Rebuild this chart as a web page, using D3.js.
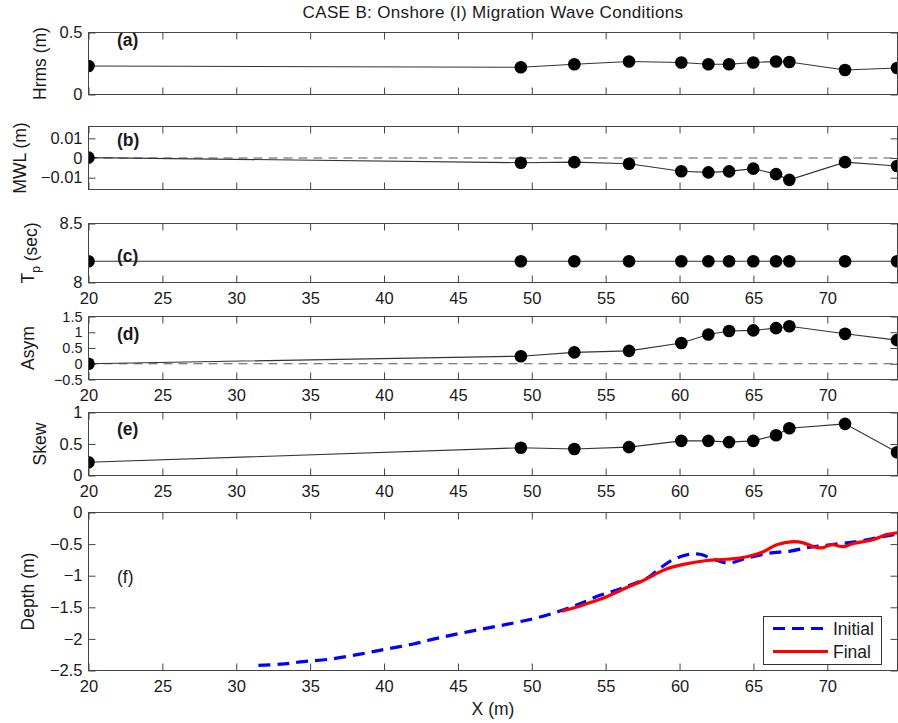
<!DOCTYPE html>
<html>
<head>
<meta charset="utf-8">
<script src="https://cdn.jsdelivr.net/npm/d3@7"></script>
<style>
  html, body { margin: 0; padding: 0; background: #fff; }
  svg { display: block; }
  text { font-family: "Liberation Sans", Arial, Helvetica, sans-serif; fill: #1a1a1a; }
</style>
</head>
<body>
<svg id="chart" width="898" height="723"></svg>
<script>
// Cross-shore stations where wave statistics were measured (m)
const stationX = [20, 49.26, 52.88, 56.58, 60.12, 61.95, 63.35, 64.99, 66.53, 67.43, 71.20, 74.72];
// Root-mean-square wave height (m)
const hrms = [0.23, 0.22, 0.244, 0.266, 0.258, 0.244, 0.244, 0.258, 0.266, 0.262, 0.198, 0.214];
// Mean water level (m)
const mwl = [0.0002, -0.0024, -0.0021, -0.0029, -0.0067, -0.0073, -0.0068, -0.0054, -0.0082, -0.0111, -0.0021, -0.0041];
// Peak period (sec)
const tp = [8.18, 8.18, 8.18, 8.18, 8.18, 8.18, 8.18, 8.18, 8.18, 8.18, 8.18, 8.18];
// Wave asymmetry
const asym = [0.0, 0.24, 0.36, 0.41, 0.66, 0.93, 1.04, 1.06, 1.13, 1.19, 0.95, 0.75];
// Wave skewness
const skew = [0.21, 0.44, 0.42, 0.45, 0.55, 0.55, 0.53, 0.55, 0.64, 0.75, 0.82, 0.37];

// Bed profiles: initial and final
const initialX = [31.5, 33.0, 34.55, 36.35, 38.38, 40.19, 41.99, 43.8, 45.83, 47.86, 50.1, 51.9, 53.3, 54.6, 55.6, 56.4, 57.34, 57.8, 58.69, 59.3, 60.04, 60.7, 61.4, 62.2, 63.3, 64.3, 65.9, 67.5, 68.83, 70.2, 72.0, 73.57, 74.75];
const initialDepth = [-2.42, -2.40, -2.36, -2.32, -2.24, -2.16, -2.08, -1.98, -1.88, -1.79, -1.68, -1.56, -1.44, -1.31, -1.24, -1.17, -1.09, -1.04, -0.88, -0.78, -0.70, -0.66, -0.66, -0.73, -0.80, -0.74, -0.65, -0.61, -0.55, -0.51, -0.46, -0.39, -0.34];
const finalX = [52.03, 53.0, 54.0, 55.0, 56.4, 57.34, 58.24, 59.03, 60.27, 61.84, 63.19, 64.55, 65.67, 66.57, 67.70, 68.38, 69.05, 69.62, 70.3, 71.08, 71.76, 73.1, 74.0, 74.75];
const finalDepth = [-1.56, -1.50, -1.42, -1.34, -1.19, -1.10, -0.99, -0.90, -0.82, -0.76, -0.74, -0.70, -0.62, -0.51, -0.46, -0.48, -0.54, -0.56, -0.51, -0.54, -0.49, -0.43, -0.35, -0.32];

const xTicks = [20, 25, 30, 35, 40, 45, 50, 55, 60, 65, 70];
const titleText = "CASE B: Onshore (I) Migration Wave Conditions";

const svg = d3.select("#chart");
const left = 88.5, right = 897.5;
const x = d3.scaleLinear().domain([20, 74.75]).range([left, right]);

const tickFont = 16.5, labelFont = 17.5;
const fmt = v => (v < 0 ? "\u2212" + Math.abs(v) : String(v));
const frameColor = "#444";

function panel(opts) {
  const y = d3.scaleLinear().domain(opts.domain).range([opts.bottom, opts.top]);
  const g = svg.append("g");
  const tickLen = 7;

  // ticks on all four sides, pointing inward
  const axL = g.append("g").attr("transform", `translate(${left},0)`)
    .call(d3.axisLeft(y).tickValues(opts.yTicks).tickSizeInner(-tickLen).tickSizeOuter(0).tickPadding(6).tickFormat(fmt));
  const axR = g.append("g").attr("transform", `translate(${right},0)`)
    .call(d3.axisRight(y).tickValues(opts.yTicks).tickSizeInner(-tickLen).tickSizeOuter(0).tickFormat(""));
  const axT = g.append("g").attr("transform", `translate(0,${opts.top})`)
    .call(d3.axisTop(x).tickValues(xTicks).tickSizeInner(-tickLen).tickSizeOuter(0).tickFormat(""));
  const axB = g.append("g").attr("transform", `translate(0,${opts.bottom})`)
    .call(d3.axisBottom(x).tickValues(xTicks).tickSizeInner(-tickLen).tickSizeOuter(0).tickPadding(10)
      .tickFormat(opts.xLabels ? d3.format("d") : ""));
  [axL, axR, axT, axB].forEach(a => {
    a.select(".domain").remove();
    a.selectAll(".tick line").attr("stroke", frameColor);
    a.selectAll("text").attr("font-size", tickFont).attr("fill", "#1a1a1a")
      .attr("font-family", '"Liberation Sans", Arial, sans-serif');
  });
  // densely ticked y axes get slightly smaller labels so they stay clear of each other
  if (opts.yTickFont) axL.selectAll("text").attr("font-size", opts.yTickFont);

  const clipId = "clip-" + opts.name;
  g.append("clipPath").attr("id", clipId).append("rect")
    .attr("x", left).attr("y", opts.top - 8).attr("width", right - left).attr("height", opts.bottom - opts.top + 16);
  const plot = g.append("g").attr("clip-path", `url(#${clipId})`);

  if (opts.zeroLine) {
    plot.append("line").attr("x1", left).attr("x2", right)
      .attr("y1", y(0)).attr("y2", y(0))
      .attr("stroke", "#555").attr("stroke-width", 1.2).attr("stroke-dasharray", "9,6");
  }

  if (opts.values) {
    const pts = stationX.map((sx, i) => [sx, opts.values[i]]);
    plot.append("path").datum(pts)
      .attr("d", d3.line().x(d => x(d[0])).y(d => y(d[1])))
      .attr("fill", "none").attr("stroke", "#333").attr("stroke-width", 1.1);
    plot.selectAll("circle").data(pts).join("circle")
      .attr("cx", d => x(d[0])).attr("cy", d => y(d[1])).attr("r", 6.3).attr("fill", "#000");
  }

  if (opts.draw) opts.draw(plot, y);

  // frame
  g.append("rect").attr("x", left).attr("y", opts.top)
    .attr("width", right - left).attr("height", opts.bottom - opts.top)
    .attr("fill", "none").attr("stroke", frameColor).attr("stroke-width", 1);

  // panel tag
  g.append("text").attr("x", 117).attr("y", opts.tagY).attr("dy", "0.35em")
    .attr("font-size", labelFont).attr("font-weight", opts.tagBold ? "bold" : "normal").text(opts.tag);

  // y-axis label
  const yl = g.append("text")
    .attr("transform", `translate(${opts.labelX},${(opts.top + opts.bottom) / 2}) rotate(-90)`)
    .attr("text-anchor", "middle").attr("font-size", labelFont);
  if (opts.labelParts) {
    opts.labelParts(yl);
  } else {
    yl.text(opts.label);
  }
  return y;
}

// title
svg.append("text").attr("x", (left + right) / 2).attr("y", 12).attr("dy", "0.35em")
  .attr("text-anchor", "middle").attr("font-size", 17).attr("letter-spacing", 0.35).text(titleText);

panel({ name: "a", top: 32.5, bottom: 94.5, domain: [0, 0.5], yTicks: [0, 0.5],
  values: hrms, tag: "(a)", tagY: 40, tagBold: true, label: "Hrms (m)", labelX: 46 });

panel({ name: "b", top: 126.5, bottom: 189.5, domain: [-0.016, 0.016], yTicks: [-0.01, 0, 0.01],
  values: mwl, zeroLine: true, tag: "(b)", tagY: 140, tagBold: true, label: "MWL (m)", labelX: 26 });

panel({ name: "c", top: 223.5, bottom: 282.5, domain: [8, 8.5], yTicks: [8, 8.5], xLabels: true,
  values: tp, tag: "(c)", tagY: 256, tagBold: true, labelX: 34,
  labelParts: t => {
    t.append("tspan").text("T");
    t.append("tspan").attr("font-size", 12).attr("dy", 6).text("p");
    t.append("tspan").attr("dy", -3).text(" (sec)");
  } });

panel({ name: "d", top: 316.5, bottom: 379.5, domain: [-0.5, 1.5], yTicks: [-0.5, 0, 0.5, 1, 1.5], xLabels: true,
  yTickFont: 14.5,
  values: asym, zeroLine: true, tag: "(d)", tagY: 334, tagBold: true, label: "Asym", labelX: 34 });

panel({ name: "e", top: 412.5, bottom: 475.5, domain: [0, 1], yTicks: [0, 0.5, 1], xLabels: true,
  values: skew, tag: "(e)", tagY: 429, tagBold: true, label: "Skew", labelX: 46 });

panel({ name: "f", top: 512.5, bottom: 670.5, domain: [-2.5, 0], yTicks: [-2.5, -2, -1.5, -1, -0.5, 0], xLabels: true,
  tag: "(f)", tagY: 577, tagBold: false, label: "Depth (m)", labelX: 34,
  draw: (plot, y) => {
    const line = d3.line().x(d => x(d[0])).y(d => y(d[1])).curve(d3.curveCatmullRom.alpha(0.5));
    plot.append("path").datum(initialX.map((v, i) => [v, initialDepth[i]]))
      .attr("d", line).attr("fill", "none").attr("stroke", "#0000ff")
      .attr("stroke-width", 3.2).attr("stroke-dasharray", "12,7");
    plot.append("path").datum(finalX.map((v, i) => [v, finalDepth[i]]))
      .attr("d", line).attr("fill", "none").attr("stroke", "#ff0000")
      .attr("stroke-width", 3.2);

    // legend
    const lg = svg.append("g");
    lg.append("rect").attr("x", 763.5).attr("y", 616.5).attr("width", 118).attr("height", 48)
      .attr("fill", "#fff").attr("stroke", "#333").attr("stroke-width", 1);
    lg.append("line").attr("x1", 773).attr("x2", 828).attr("y1", 628.5).attr("y2", 628.5)
      .attr("stroke", "#0000ff").attr("stroke-width", 3.2).attr("stroke-dasharray", "12,7");
    lg.append("line").attr("x1", 773).attr("x2", 828).attr("y1", 651.5).attr("y2", 651.5)
      .attr("stroke", "#ff0000").attr("stroke-width", 3.2);
    lg.append("text").attr("x", 833).attr("y", 628.5).attr("dy", "0.35em").attr("font-size", labelFont).text("Initial");
    lg.append("text").attr("x", 833).attr("y", 651.5).attr("dy", "0.35em").attr("font-size", labelFont).text("Final");
  } });

// x-axis label
svg.append("text").attr("x", (left + right) / 2).attr("y", 709).attr("dy", "0.35em")
  .attr("text-anchor", "middle").attr("font-size", labelFont).text("X (m)");
</script>
</body>
</html>
